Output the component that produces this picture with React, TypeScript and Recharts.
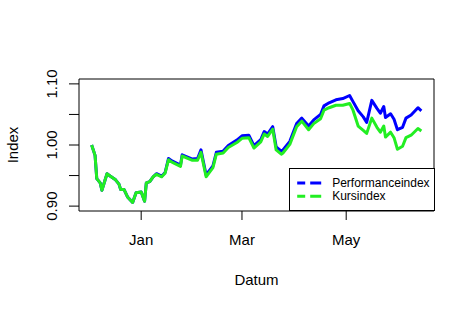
import { LineChart, Line, XAxis, YAxis, Legend, ReferenceArea } from "recharts";

// days relative to 1 Jan (negative = December)
const days = [
  -29, -27, -26, -24, -23, -20, -18, -15, -13, -12, -10, -8, -5, -3, 0, 2, 3, 5, 7, 9,
  12, 14, 16, 18, 23, 24, 30, 33, 35, 38, 42, 44, 48, 51, 56, 59, 63, 66, 70, 72,
  74, 77, 79, 82, 83, 87, 91, 94, 98, 101, 105, 107, 110, 114, 118, 122, 124, 127, 130, 132,
  135, 138, 140, 142, 143, 146, 148, 150, 153, 155, 158, 162, 164,
];

const performanceindex = [
  1.0, 0.983, 0.945, 0.938, 0.926, 0.953, 0.949, 0.943, 0.936, 0.927, 0.927, 0.915, 0.906, 0.922, 0.923, 0.908, 0.938, 0.94, 0.948, 0.953,
  0.949, 0.955, 0.978, 0.974, 0.967, 0.984, 0.977, 0.978, 0.992, 0.951, 0.966, 0.988, 0.99, 0.999, 1.008, 1.015, 1.016, 0.999, 1.009, 1.022,
  1.018, 1.03, 0.997, 0.99, 0.992, 1.006, 1.035, 1.044, 1.031, 1.041, 1.05, 1.064, 1.069, 1.074, 1.076, 1.081, 1.071, 1.056, 1.046, 1.037,
  1.073, 1.06, 1.052, 1.063, 1.045, 1.051, 1.042, 1.025, 1.029, 1.044, 1.049, 1.061, 1.056,
];

const kursindex = [
  1.0, 0.983, 0.945, 0.938, 0.926, 0.953, 0.949, 0.943, 0.936, 0.927, 0.927, 0.915, 0.906, 0.922, 0.923, 0.908, 0.938, 0.94, 0.948, 0.952,
  0.948, 0.954, 0.976, 0.972, 0.965, 0.982, 0.975, 0.975, 0.988, 0.948, 0.963, 0.985, 0.987, 0.996, 1.004, 1.011, 1.012, 0.995, 1.005, 1.018,
  1.014, 1.026, 0.992, 0.985, 0.987, 1.001, 1.03, 1.039, 1.025, 1.035, 1.043, 1.057, 1.061, 1.065, 1.065, 1.068, 1.057, 1.031, 1.024, 1.019,
  1.044, 1.029, 1.021, 1.031, 1.013, 1.021, 1.012, 0.993, 0.998, 1.012, 1.016, 1.027, 1.023,
];

const seriesNames = ["Performanceindex", "Kursindex"];
const xTicks = [0, 59, 120];
const xTickLabels = ["Jan", "Mar", "May"];
const yTicks = [0.9, 0.95, 1.0, 1.05, 1.1];
const yTickLabels = ["0.90", "", "1.00", "", "1.10"];

const X_DOMAIN = [-36.4, 171.4];
const Y_DOMAIN = [0.892, 1.108];
const FONT = "'Liberation Sans', Arial, Helvetica, sans-serif";

const data = days.map((d, i) => ({
  day: d,
  perf: performanceindex[i],
  kurs: kursindex[i],
}));

const XTick = ({ x, y, payload }) => {
  const i = xTicks.indexOf(payload.value);
  return (
    <text x={x} y={y + 25} textAnchor="middle" fontSize={15} fontFamily={FONT} fill="#000">
      {xTickLabels[i]}
    </text>
  );
};

const YTick = ({ x, y, payload }) => {
  const i = yTicks.indexOf(payload.value);
  const bx = x - 12;
  return (
    <text
      x={bx}
      y={y}
      transform={`rotate(-90, ${bx}, ${y})`}
      textAnchor="middle"
      fontSize={15}
      fontFamily={FONT}
      fill="#000"
    >
      {yTickLabels[i]}
    </text>
  );
};

const XTitle = ({ viewBox }) => (
  <text
    x={viewBox.x + viewBox.width / 2}
    y={285}
    textAnchor="middle"
    fontSize={15}
    fontFamily={FONT}
    fill="#000"
  >
    Datum
  </text>
);

const YTitle = ({ viewBox }) => {
  const cy = viewBox.y + viewBox.height / 2;
  return (
    <text
      x={18.3}
      y={cy}
      transform={`rotate(-90, 18.3, ${cy})`}
      textAnchor="middle"
      fontSize={15}
      fontFamily={FONT}
      fill="#000"
    >
      Index
    </text>
  );
};

const LegendBox = ({ payload }) => {
  const items = [...(payload || [])].sort(
    (a, b) => seriesNames.indexOf(a.value) - seriesNames.indexOf(b.value)
  );
  return (
    <svg width={146} height={43} style={{ display: "block" }}>
      <rect x={0.5} y={0.5} width={145} height={42} fill="#fff" stroke="#000" />
      {items.map((p, i) => (
        <g key={p.value}>
          <line
            x1={8.2}
            x2={32.5}
            y1={15 + i * 13.3}
            y2={15 + i * 13.3}
            stroke={p.color}
            strokeWidth={3}
            strokeDasharray="8 5 11"
          />
          <text x={43.2} y={19 + i * 13.3} fontSize={12} fontFamily={FONT} fill="#000">
            {p.value}
          </text>
        </g>
      ))}
    </svg>
  );
};

export default function App() {
  return (
    <div style={{ position: "absolute", left: 0, top: 0, background: "#fff" }}>
      <LineChart
        width={475}
        height={309}
        data={data}
        margin={{ top: 79, right: 41, bottom: 0, left: 0 }}
      >
        <XAxis
          dataKey="day"
          type="number"
          domain={X_DOMAIN}
          allowDataOverflow
          ticks={xTicks}
          interval={0}
          height={98}
          axisLine={false}
          tickLine={{ stroke: "#000" }}
          tickSize={9}
          tickMargin={0}
          tick={<XTick />}
          label={{ value: "Datum", content: <XTitle /> }}
        />
        <YAxis
          type="number"
          domain={Y_DOMAIN}
          allowDataOverflow
          ticks={yTicks}
          interval={0}
          width={79}
          axisLine={false}
          tickLine={{ stroke: "#000" }}
          tickSize={10}
          tickMargin={0}
          tick={<YTick />}
          label={{ value: "Index", content: <YTitle /> }}
        />
        <Line
          dataKey="perf"
          name={seriesNames[0]}
          type="linear"
          stroke="#0000ff"
          strokeWidth={3}
          strokeLinejoin="round"
          dot={false}
          isAnimationActive={false}
        />
        <Line
          dataKey="kurs"
          name={seriesNames[1]}
          type="linear"
          stroke="#22ee22"
          strokeWidth={3}
          strokeLinejoin="round"
          dot={false}
          isAnimationActive={false}
        />
        <ReferenceArea
          x1={X_DOMAIN[0]}
          x2={X_DOMAIN[1]}
          y1={Y_DOMAIN[0]}
          y2={Y_DOMAIN[1]}
          fill="none"
          stroke="#000"
          strokeWidth={1}
          ifOverflow="visible"
        />
        <Legend
          layout="vertical"
          align="center"
          verticalAlign="middle"
          content={<LegendBox />}
          wrapperStyle={{ left: 288.5, top: 168, width: 146, height: 43 }}
        />
      </LineChart>
    </div>
  );
}
